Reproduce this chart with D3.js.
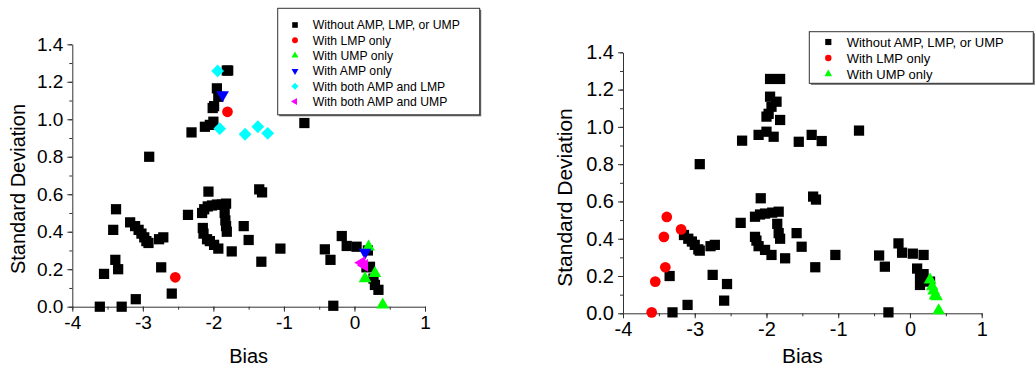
<!DOCTYPE html>
<html>
<head>
<meta charset="utf-8">
<script src="https://cdn.jsdelivr.net/npm/d3@7"></script>
<style>
  body { margin: 0; background: #fff; }
  svg { display: block; font-family: Arial, "Liberation Sans", sans-serif; }
</style>
</head>
<body>
<svg id="chart" width="1035" height="372"></svg>
<script>
// ---- data: [bias, standard deviation] ----
const xTicks = [-4, -3, -2, -1, 0, 1];
const yTicks = [0.0, 0.2, 0.4, 0.6, 0.8, 1.0, 1.2, 1.4];

const legendLeft = ['Without AMP, LMP, or UMP', 'With LMP only', 'With UMP only',
    'With AMP only', 'With both AMP and LMP', 'With both AMP and UMP'];
const legendRight = ['Without AMP, LMP, or UMP', 'With LMP only', 'With UMP only'];

const leftNone = [
    [-3.61, 0.0], [-3.30, 0.0], [-3.10, 0.04], [-3.55, 0.175], [-3.39, 0.25], [-3.35, 0.20],
    [-3.42, 0.41], [-3.38, 0.52], [-3.18, 0.45], [-3.11, 0.43], [-3.06, 0.41], [-3.02, 0.39],
    [-2.98, 0.37], [-2.95, 0.35], [-2.92, 0.34], [-2.91, 0.80], [-2.77, 0.36], [-2.71, 0.37],
    [-2.74, 0.21], [-2.59, 0.07], [-2.36, 0.49], [-2.31, 0.93], [-2.12, 0.96], [-2.05, 0.97],
    [-2.0, 0.987], [-2.01, 1.06], [-1.99, 1.07], [-1.95, 1.165], [-1.93, 1.12], [-1.81, 1.26],
    [-1.79, 1.26], [-2.07, 0.614],
    [-2.16, 0.50], [-2.13, 0.52], [-2.08, 0.535], [-2.02, 0.54], [-1.95, 0.545], [-1.88, 0.545],
    [-1.82, 0.55], [-1.84, 0.50], [-1.83, 0.46], [-1.82, 0.43], [-1.81, 0.40], [-2.15, 0.42],
    [-2.14, 0.39], [-2.09, 0.36], [-2.05, 0.35], [-1.99, 0.33], [-1.93, 0.31],
    [-1.74, 0.295], [-1.57, 0.43], [-1.50, 0.356], [-1.35, 0.626], [-1.31, 0.61], [-1.32, 0.24],
    [-1.05, 0.31], [-0.71, 0.98], [-0.42, 0.306], [-0.34, 0.25], [-0.30, 0.005], [-0.18, 0.377],
    [-0.11, 0.324], [0.03, 0.32], [0.19, 0.30], [0.17, 0.21], [0.22, 0.213], [0.27, 0.15],
    [0.29, 0.116], [0.34, 0.09]
];
const leftLMP = [[-1.80, 1.04], [-2.54, 0.157]];
const leftUMP = [[0.20, 0.32], [0.15, 0.15], [0.29, 0.178], [0.40, 0.01]];
const leftAMP = [[-1.87, 1.13], [0.15, 0.29]];
const leftAMPLMP = [[-1.94, 1.258], [-1.91, 0.95], [-1.55, 0.92], [-1.37, 0.96], [-1.23, 0.925]];
const leftAMPUMP = [[0.10, 0.235], [0.14, 0.22]];

const rightNone = [
    [-3.31, 0.005], [-3.35, 0.20], [-3.10, 0.045], [-2.93, 0.80], [-3.15, 0.42], [-3.09, 0.40],
    [-3.04, 0.385], [-3.0, 0.367], [-2.95, 0.343], [-2.93, 0.336], [-2.78, 0.36], [-2.72, 0.367],
    [-2.75, 0.206], [-2.55, 0.157], [-2.59, 0.068],
    [-1.95, 1.257], [-1.81, 1.257], [-1.95, 1.162], [-1.86, 1.135], [-1.93, 1.108], [-2.0, 1.055],
    [-1.97, 1.07], [-1.81, 1.037], [-2.11, 0.957], [-2.0, 0.974], [-1.90, 0.947], [-2.34, 0.926],
    [-1.55, 0.92], [-1.37, 0.957], [-1.23, 0.924],
    [-2.08, 0.617], [-1.35, 0.626], [-1.31, 0.61], [-2.36, 0.485], [-2.16, 0.518], [-2.09, 0.53],
    [-2.02, 0.535], [-1.92, 0.54], [-1.83, 0.545], [-1.85, 0.48], [-1.83, 0.43], [-1.81, 0.40],
    [-2.16, 0.41], [-2.14, 0.39], [-2.11, 0.36], [-2.02, 0.34], [-1.93, 0.313], [-1.58, 0.43],
    [-1.51, 0.357], [-1.74, 0.295], [-1.04, 0.313], [-1.32, 0.247], [-0.71, 0.98],
    [-0.43, 0.31], [-0.35, 0.25], [-0.30, 0.005], [-0.16, 0.375], [-0.11, 0.325], [0.04, 0.32],
    [0.19, 0.313], [0.10, 0.24], [0.14, 0.205], [0.19, 0.21], [0.14, 0.152], [0.28, 0.17]
];
const rightLMP = [[-3.60, 0.005], [-3.55, 0.17], [-3.41, 0.247], [-3.43, 0.41], [-3.39, 0.517], [-3.19, 0.45]];
const rightUMP = [[0.28, 0.18], [0.31, 0.143], [0.33, 0.12], [0.35, 0.095], [0.37, 0.09], [0.40, 0.015]];

// ---- marker styles ----
const styles = {
    none:   { color: '#000000', type: d3.symbolSquare,   size: 105, rot: 0 },
    lmp:    { color: '#ff0000', type: d3.symbolCircle,   size: 90,  rot: 0 },
    ump:    { color: '#00ff00', type: d3.symbolTriangle, size: 70,  rot: 0 },
    amp:    { color: '#0000ff', type: d3.symbolTriangle, size: 70,  rot: 180 },
    amplmp: { color: '#00ffff', type: d3.symbolSquare,   size: 82,  rot: 45 },
    ampump: { color: '#ff00ff', type: d3.symbolTriangle, size: 70,  rot: -90 }
};
const legendKeys = ['none', 'lmp', 'ump', 'amp', 'amplmp', 'ampump'];
const font = 'Arial, "Liberation Sans", sans-serif';

const svg = d3.select('#chart');

function drawPanel(p) {
    const x = d3.scaleLinear().domain([-4, 1]).range([p.x0, p.x1]);
    const y = d3.scaleLinear().domain([0, 1.4]).range([p.y0, p.y1]);
    const g = svg.append('g');

    // minor ticks
    const xMinor = d3.range(-4, 1.01, 0.5);
    const yMinor = d3.range(0, 1.401, 0.1);
    g.append('g').attr('transform', `translate(0,${p.y0})`)
        .call(d3.axisBottom(x).tickValues(xMinor).tickSize(3).tickFormat(''))
        .call(a => a.select('.domain').remove());
    g.append('g').attr('transform', `translate(${p.x0},0)`)
        .call(d3.axisLeft(y).tickValues(yMinor).tickSize(3).tickFormat(''))
        .call(a => a.select('.domain').remove());

    // major axes
    const xa = g.append('g').attr('transform', `translate(0,${p.y0})`)
        .call(d3.axisBottom(x).tickValues(xTicks).tickSize(5).tickSizeOuter(0).tickPadding(4)
            .tickFormat(d => String(d)));
    const ya = g.append('g').attr('transform', `translate(${p.x0},0)`)
        .call(d3.axisLeft(y).tickValues(yTicks).tickSize(5).tickSizeOuter(0).tickPadding(4)
            .tickFormat(d => d.toFixed(1)));
    [xa, ya].forEach(a => {
        a.selectAll('text').attr('font-size', p.tickFont).attr('font-family', font).attr('fill', '#000');
    });
    g.selectAll('.tick line, .domain').attr('stroke', '#333');

    // axis titles
    g.append('text').attr('x', (p.x0 + p.x1) / 2).attr('y', p.biasY)
        .attr('text-anchor', 'middle').attr('font-size', p.titleFont).text('Bias');
    g.append('text')
        .attr('transform', `translate(${p.sdX},${p.sdY}) rotate(-90)`)
        .attr('text-anchor', 'middle').attr('font-size', p.titleFont).text('Standard Deviation');

    // points
    p.series.forEach(s => {
        const st = styles[s.key];
        g.append('g').selectAll('path').data(s.data).enter().append('path')
            .attr('d', d3.symbol().type(st.type).size(st.size))
            .attr('transform', d => `translate(${x(d[0])},${y(d[1])}) rotate(${st.rot})`)
            .attr('fill', st.color);
    });

    // legend
    const L = p.legend;
    const lg = svg.append('g');
    lg.append('rect').attr('x', L.x + 1.5).attr('y', L.y + 1.5).attr('width', L.w).attr('height', L.h)
        .attr('fill', '#666');
    lg.append('rect').attr('x', L.x).attr('y', L.y).attr('width', L.w).attr('height', L.h)
        .attr('fill', '#fff').attr('stroke', '#333').attr('stroke-width', 1);
    L.labels.forEach((lab, i) => {
        const st = styles[legendKeys[i]];
        const cy = L.firstY + i * L.step;
        lg.append('path')
            .attr('d', d3.symbol().type(st.type).size(st.size * L.symScale))
            .attr('transform', `translate(${L.markX},${cy}) rotate(${st.rot})`)
            .attr('fill', st.color);
        lg.append('text').attr('x', L.textX).attr('y', cy).attr('dy', '0.36em')
            .attr('font-size', L.font).text(lab);
    });
}

drawPanel({
    x0: 72.3, x1: 425, y0: 306.7, y1: 44.3,
    tickFont: 19, titleFont: 20, biasY: 363, sdX: 25, sdY: 189,
    series: [
        { key: 'none', data: leftNone }, { key: 'lmp', data: leftLMP }, { key: 'ump', data: leftUMP },
        { key: 'amp', data: leftAMP }, { key: 'amplmp', data: leftAMPLMP }, { key: 'ampump', data: leftAMPUMP }
    ],
    legend: { x: 277.7, y: 8.3, w: 202, h: 106.5, firstY: 25, step: 15.3, markX: 295, textX: 312.7,
        font: 12.2, symScale: 0.3, labels: legendLeft }
});

drawPanel({
    x0: 623, x1: 981.7, y0: 313.3, y1: 52.3,
    tickFont: 20, titleFont: 21, biasY: 363, sdX: 572, sdY: 197.5,
    series: [
        { key: 'none', data: rightNone }, { key: 'lmp', data: rightLMP }, { key: 'ump', data: rightUMP }
    ],
    legend: { x: 809.3, y: 31.7, w: 224, h: 51.6, firstY: 42, step: 16, markX: 828.3, textX: 846.7,
        font: 13, symScale: 0.36, labels: legendRight }
});
</script>
</body>
</html>
